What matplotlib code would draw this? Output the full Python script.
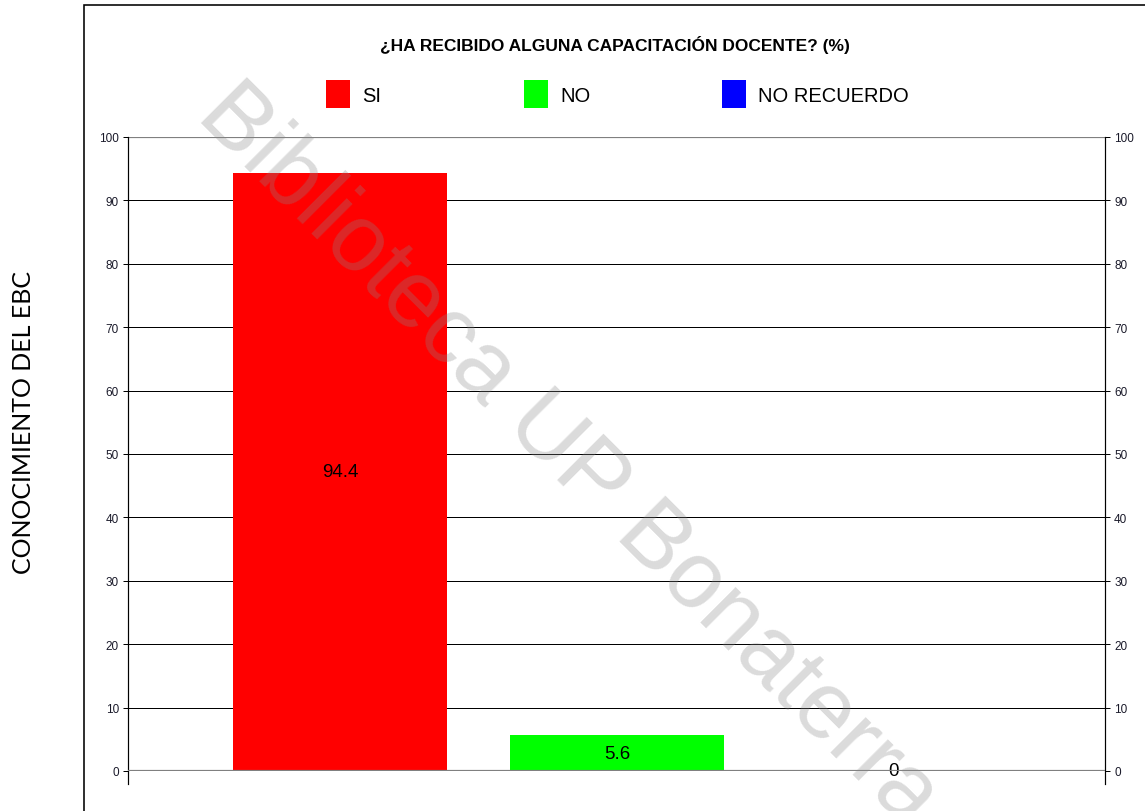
import matplotlib
matplotlib.use("Agg")
import matplotlib.pyplot as plt
from matplotlib.patches import Rectangle

categorias = ["SI", "NO", "NO RECUERDO"]
valores = [94.4, 5.6, 0]
colores = ["#ff0000", "#00ff00", "#0000ff"]
ticks_y = [0, 10, 20, 30, 40, 50, 60, 70, 80, 90, 100]

plt.rcParams["font.family"] = ["Liberation Sans", "DejaVu Sans"]
narrow = ["Liberation Sans Narrow", "Liberation Sans", "DejaVu Sans"]
px = 72 / 100  # un pixel en puntos

fig = plt.figure(figsize=(11.45, 8.12), dpi=100)
ax = fig.add_axes([128 / 1145, 40 / 812, (1105 - 128) / 1145, (772 - 138) / 812])

# grilla
for t in ticks_y[1:-1]:
    ax.axhline(t, color="black", lw=1 * px, zorder=0)
ax.axhline(100, color="#808080", lw=1.2 * px, zorder=0)

x = list(range(len(categorias)))
barras = ax.bar(x, valores, width=0.77, color=colores, zorder=2)
for b, cat in zip(barras, categorias):
    b.set_label(cat)
ax.bar_label(barras, labels=[f"{v:g}" for v in valores], label_type="center",
             fontsize=13.5, color="black")

ax.axhline(0, color="#808080", lw=2.2 * px, zorder=3)

ax.set_xlim(-0.765, 2.762)
ax.set_ylim(0, 100)
ax.set_yticks(ticks_y)
ax.set_xticks([])
for s in ax.spines.values():
    s.set_visible(False)
ax.plot([0, 0], [-0.0205, 1], transform=ax.transAxes, color="black", lw=1.2 * px, clip_on=False)
ax.plot([1, 1], [-0.0205, 1], transform=ax.transAxes, color="black", lw=1.2 * px, clip_on=False)
ax.tick_params(axis="y", direction="out", length=5 * px, width=1 * px, left=True, right=True,
               labelleft=True, labelright=True, labelsize=8.5, labelcolor="#1a1a2a", pad=3)
for lbl in ax.get_yticklabels():
    lbl.set_family(narrow)

# titulo y leyenda
fig.text(615 / 1145, 1 - 45 / 812, "¿HA RECIBIDO ALGUNA CAPACITACIÓN DOCENTE? (%)",
         ha="center", va="center", fontsize=12.5, fontweight="bold", family=narrow)
for b, xl in zip(barras, [326, 524, 722]):
    leg = fig.legend(handles=[b], loc="center left", bbox_to_anchor=(xl / 1145, 1 - 95 / 812),
                     frameon=False, fontsize=14.5, handlelength=1.19, handleheight=1.75,
                     handletextpad=0.6, borderpad=0, borderaxespad=0)

fig.text(24 / 1145, 1 - 423 / 812, "CONOCIMIENTO DEL EBC", rotation=90, ha="center", va="center",
         fontsize=18, family=["Lato", "DejaVu Sans"])

# marco exterior
fig.add_artist(Rectangle((84 / 1145, -0.1), 1.2, 1.1 - 6 / 812, transform=fig.transFigure,
                         fill=False, edgecolor="black", lw=1.6 * px))

# marca de agua
fig.text(568 / 1145, 1 - 456 / 812, "Biblioteca UP Bonaterra", rotation=-45,
         rotation_mode="anchor", ha="center", va="center", fontsize=68,
         color="#888888", alpha=0.3, zorder=10)

fig.savefig("out.png", dpi=100)
